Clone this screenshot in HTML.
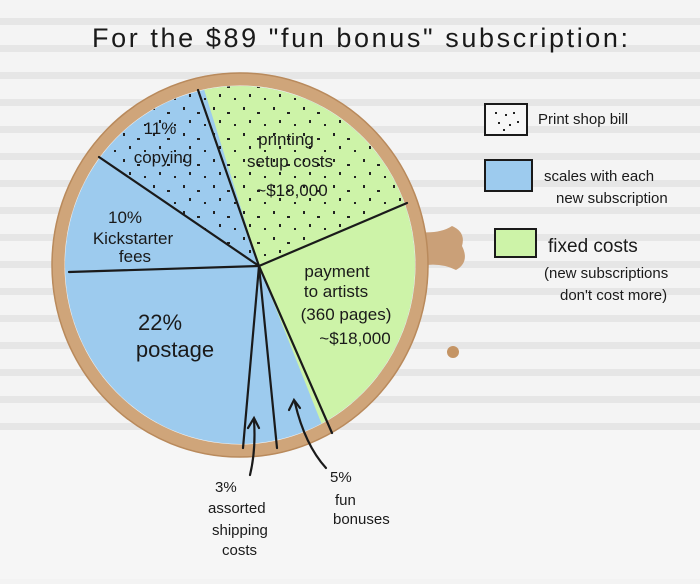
<!DOCTYPE html>
<html><head><meta charset="utf-8"><style>
html,body{margin:0;padding:0;}
body{width:700px;height:579px;overflow:hidden;background:#f3f3f3;}
svg text{font-family:"Liberation Sans",sans-serif;fill:#1a1a1a;}
</style></head><body>
<svg width="700" height="579" viewBox="0 0 700 579" xmlns="http://www.w3.org/2000/svg">
<defs>
<pattern id="stripes" x="0" y="0" width="700" height="27" patternUnits="userSpaceOnUse">
<rect width="700" height="27" fill="#f4f4f4"/>
<rect y="18" width="700" height="7" fill="#e6e6e6"/>
</pattern>
<pattern id="dots" width="30" height="26" patternUnits="userSpaceOnUse">
<rect x="3" y="3" width="2" height="3" fill="#222"/>
<rect x="17" y="8" width="3" height="2" fill="#222"/>
<rect x="9" y="16" width="2" height="3" fill="#222"/>
<rect x="24" y="20" width="2" height="2" fill="#222"/>
</pattern>
<clipPath id="pie"><ellipse cx="240" cy="265" rx="175" ry="179"/></clipPath>
</defs>
<rect width="700" height="579" fill="url(#stripes)"/>
<rect y="430" width="700" height="149" fill="#f6f6f6"/>
<!-- coffee ring -->
<path d="M418 232 Q440 234 452 226 Q466 232 462 246 Q470 262 456 270 Q440 262 420 266 Z" fill="#caa078"/>
<circle cx="453" cy="352" r="6" fill="#c49464"/>
<ellipse cx="240" cy="265" rx="182" ry="186" fill="none" stroke="#cfa57a" stroke-width="13"/>
<ellipse cx="240" cy="265" rx="188" ry="192" fill="none" stroke="#b98a5c" stroke-width="1.5"/>
<g clip-path="url(#pie)">
<rect x="60" y="80" width="360" height="370" fill="#9dcbee"/>
<polygon points="259,266 198,70 430,70 430,192" fill="#cdf3a8"/>
<polygon points="259,266 430,192 430,450 332,450" fill="#cdf3a8"/>
<polygon points="259,266 198,70 90,70 90,150" fill="url(#dots)"/>
<polygon points="259,266 198,70 430,70 430,192" fill="url(#dots)"/>
</g>
<g stroke="#1a1a1a" stroke-width="2.2" fill="none" stroke-linecap="round">
<line x1="259" y1="266" x2="198" y2="90"/>
<line x1="259" y1="266" x2="99" y2="157"/>
<line x1="259" y1="266" x2="69" y2="272"/>
<line x1="259" y1="266" x2="243" y2="448"/>
<line x1="259" y1="266" x2="277" y2="448"/>
<line x1="259" y1="266" x2="332" y2="433"/>
<line x1="259" y1="266" x2="407" y2="203"/>
<path d="M250 475 Q256 450 254 420"/>
<path d="M248 428 L254 418 L259 428"/>
<path d="M326 468 Q305 445 295 403"/>
<path d="M289 410 L294 400 L300 408"/>
</g>
<!-- legend -->
<rect x="485" y="104" width="42" height="31" fill="#f7f7f7" stroke="#1a1a1a" stroke-width="2"/>
<g fill="#222"><rect x="495" y="112" width="2" height="2"/><rect x="505" y="114" width="2" height="2"/><rect x="513" y="112" width="2" height="2"/><rect x="498" y="122" width="2" height="2"/><rect x="509" y="124" width="2" height="2"/><rect x="517" y="121" width="2" height="2"/><rect x="503" y="129" width="2" height="2"/></g>
<rect x="485" y="160" width="47" height="31" fill="#9dcbee" stroke="#1a1a1a" stroke-width="2"/>
<rect x="495" y="229" width="41" height="28" fill="#cdf3a8" stroke="#1a1a1a" stroke-width="2"/>
<g font-size="15">
<text x="538" y="124">Print shop bill</text>
<text x="544" y="181">scales with each</text>
<text x="556" y="203">new subscription</text>
<text x="548" y="252" font-size="19">fixed costs</text>
<text x="544" y="278">(new subscriptions</text>
<text x="560" y="300">don't cost more)</text>
</g>
<text x="92" y="47" font-size="27" letter-spacing="2.6">For  the  $89  "fun bonus"  subscription:</text>
<g font-size="17" text-anchor="middle">
<text x="160" y="134">11%</text>
<text x="163" y="163">copying</text>
<text x="286" y="145">printing</text>
<text x="290" y="167">setup costs</text>
<text x="292" y="196">~$18,000</text>
<text x="125" y="223">10%</text>
<text x="133" y="244">Kickstarter</text>
<text x="135" y="262">fees</text>
<text x="337" y="277">payment</text>
<text x="336" y="297">to artists</text>
<text x="346" y="320">(360 pages)</text>
<text x="355" y="344">~$18,000</text>
<text x="160" y="330" font-size="22">22%</text>
<text x="175" y="357" font-size="22">postage</text>
</g>
<g font-size="15">
<text x="215" y="492">3%</text>
<text x="208" y="513">assorted</text>
<text x="212" y="535">shipping</text>
<text x="222" y="555">costs</text>
<text x="330" y="482">5%</text>
<text x="335" y="505">fun</text>
<text x="333" y="524">bonuses</text>
</g>
</svg>
</body></html>
